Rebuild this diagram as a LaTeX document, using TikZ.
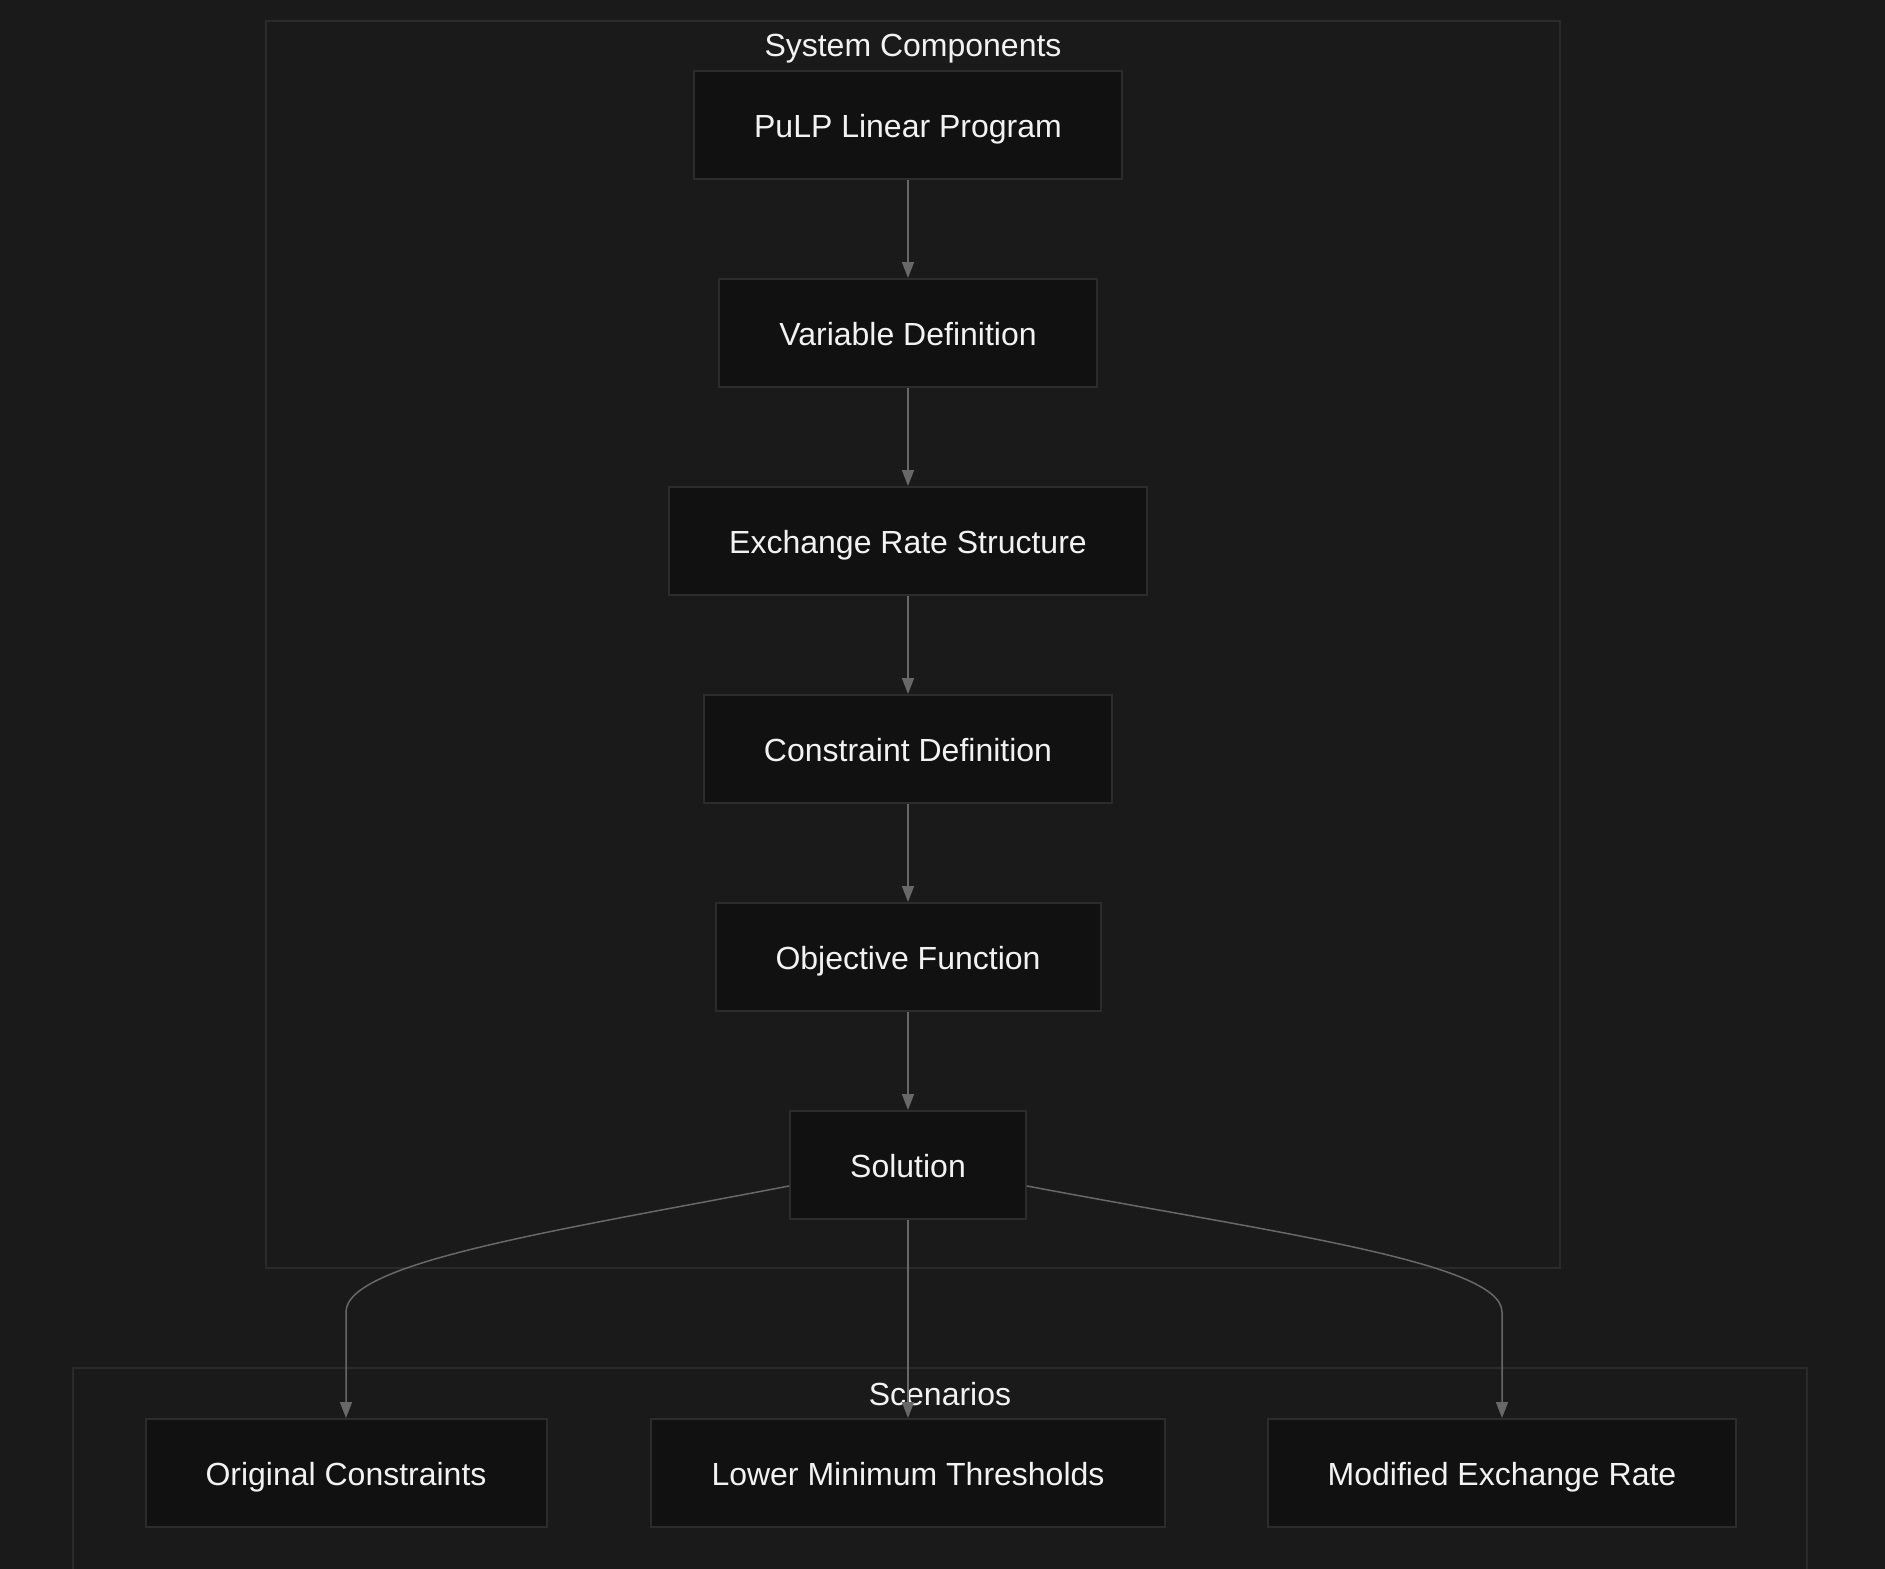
\documentclass[tikz,border=0pt]{standalone}
\usepackage{fontspec}
\setmainfont{Liberation Sans}
\usetikzlibrary{arrows.meta, positioning}

\begin{document}
\begin{tikzpicture}[
    x=0.5pt, y=-0.5pt,
    every node/.style={font=\fontsize{16}{19}\selectfont},
]

% ---------------------------------------------------------------- colours
\definecolor{bg}{HTML}{1A1A1A}         % the canvas
\definecolor{boxfill}{HTML}{111111}    % the steps
\definecolor{boxline}{HTML}{2C2C2C}
\definecolor{groupline}{HTML}{2A2A2A}  % the two groups
\definecolor{edgecolor}{HTML}{686868}
\definecolor{textcolor}{HTML}{F2F2F2}

% ================================================================
% Geometry, in pixels of the 1885 x 1569 canvas (y runs downwards).
%
%   box height 108, pitch 208 down the chain  ->  gap of 100
%   chain on the line x = 908, centres y = 125 ... 1165
%   group 1 (266,21) .. (1560,1268), title at y = 50
%   group 2 (73,1368) .. off the bottom, title at y = 1394
%   scenario row at y = 1473, columns x = 346, 908, 1502
%   the two side edges leave Solution 22 below its centre and
%   bend down into their columns at y = 1312
% ================================================================

\def\cx{908}
\def\rows{1473}

\tikzset{
    stepbox/.style={
        draw=boxline, line width=1pt, fill=boxfill,
        minimum height=54pt, inner xsep=30pt,
        text height=13pt, text depth=1pt,
        text=textcolor,
    },
    group/.style={draw=groupline, line width=1pt},
    grouptitle/.style={text=textcolor, inner sep=0pt},
    arr/.style={draw=edgecolor, line width=0.75pt,
        -{Triangle[length=8pt, width=6pt]}},
}

\useasboundingbox (0,0) rectangle (1885,1569);
\fill[bg] (0,0) rectangle (1885,1569);

% ================================================================ groups
\draw[group] (266,21) rectangle (1560,1268);
\node[grouptitle] (systitle) at (913,49) {System Components};

\draw[group] (73,1368) rectangle (1807,1600);
\node[grouptitle] (scentitle) at (940,1394) {Scenarios};

% ================================================================ the chain
\foreach \n/\y/\t in {pulp/125/PuLP Linear Program,
                      vars/333/Variable Definition,
                      rates/541/Exchange Rate Structure,
                      cons/749/Constraint Definition,
                      obj/957/Objective Function,
                      sol/1165/Solution} {
    \node[stepbox] (\n) at (\cx,\y) {\t};
}

\foreach \a/\b in {pulp/vars, vars/rates, rates/cons, cons/obj, obj/sol} {
    \draw[arr] (\a.south) -- (\b.north);
}

% ================================================================ scenarios
\node[stepbox] (orig)  at (346,\rows)  {Original Constraints};
\node[stepbox] (lower) at (\cx,\rows)  {Lower Minimum Thresholds};
\node[stepbox] (modx)  at (1502,\rows) {Modified Exchange Rate};

\draw[arr] (sol.190) .. controls (560,1230) and (346,1262) .. (346,1312)
    -- (orig.north);
\draw[arr] (sol.south) -- (lower.north);
\draw[arr] (sol.350) .. controls (1270,1232) and (1502,1262) .. (1502,1312)
    -- (modx.north);

\end{tikzpicture}
\end{document}
